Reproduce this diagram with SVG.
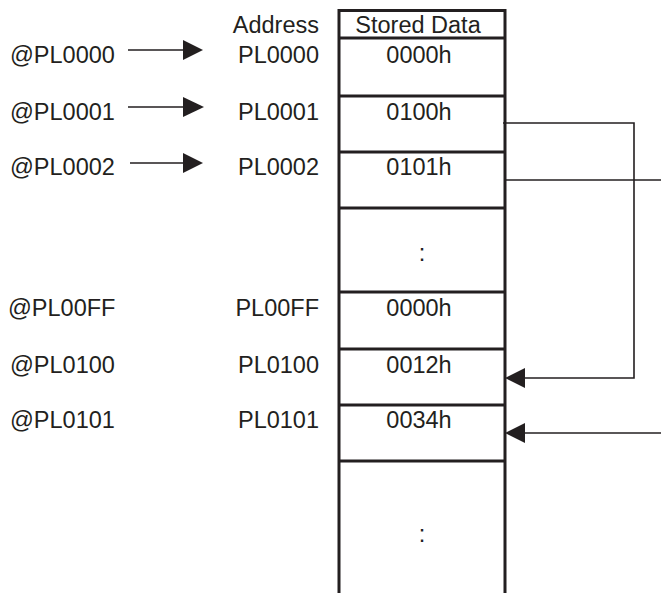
<svg xmlns="http://www.w3.org/2000/svg" width="661" height="593" viewBox="0 0 661 593">
<style>
text{font-family:"Liberation Sans",Arial,sans-serif;font-size:23.5px;fill:#231f20}
.r{text-anchor:end}
.c{text-anchor:middle}
.tbl{stroke:#231f20;stroke-width:3;fill:none}
.conn{stroke:#231f20;stroke-width:1.6;fill:none}
.ah{fill:#231f20}
</style>
<rect width="661" height="593" fill="#fff"/>
<g id="table">
<path class="tbl" d="M339,593 V10.5 H505 V593"/>
<path class="tbl" d="M339,38 H505 M339,96 H505 M339,152 H505 M339,208 H505 M339,292 H505 M339,349 H505 M339,405 H505 M339,461 H505"/>
<text class="c" x="418" y="33">Stored Data</text>
</g>
<g id="headers">
<text class="r" x="319" y="33">Address</text>
</g>
<g id="row0"><text x="10" y="63">@PL0000</text><text class="r" x="319" y="63">PL0000</text><text class="c" x="419" y="63">0000h</text></g>
<g id="row1"><text x="10" y="120">@PL0001</text><text class="r" x="319" y="120">PL0001</text><text class="c" x="419" y="120">0100h</text></g>
<g id="row2"><text x="10" y="175">@PL0002</text><text class="r" x="319" y="175">PL0002</text><text class="c" x="419" y="175">0101h</text></g>
<g id="gap1"><text class="c" x="422" y="261">:</text></g>
<g id="row3"><text x="8" y="316">@PL00FF</text><text class="r" x="319" y="316">PL00FF</text><text class="c" x="419" y="316">0000h</text></g>
<g id="row4"><text x="10" y="373">@PL0100</text><text class="r" x="319" y="373">PL0100</text><text class="c" x="419" y="373">0012h</text></g>
<g id="row5"><text x="10" y="428">@PL0101</text><text class="r" x="319" y="428">PL0101</text><text class="c" x="419" y="428">0034h</text></g>
<g id="gap2"><text class="c" x="422" y="542">:</text></g>
<g id="connectors">
<path class="conn" d="M128,50 H185 M128,107 H185 M130,163 H185"/>
<polygon class="ah" points="183,40 203,50 183,60"/>
<polygon class="ah" points="183,97 204,107 183,117"/>
<polygon class="ah" points="183,153 203,163 183,173"/>
<path class="conn" d="M503,123 H634 V378 H522"/>
<path class="conn" d="M505,180 H661"/>
<path class="conn" d="M661,433 H522"/>
<polygon class="ah" points="525,368 505,378 525,388"/>
<polygon class="ah" points="525,423 505,433 525,443"/>
</g>
</svg>
